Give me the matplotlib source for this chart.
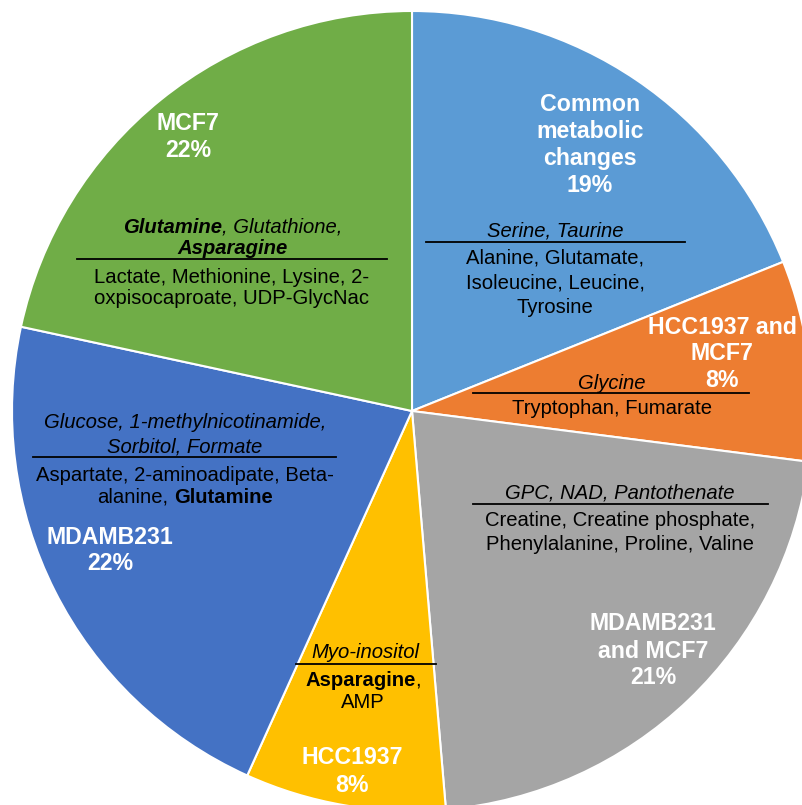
import matplotlib
matplotlib.use("Agg")
import matplotlib.pyplot as plt

plt.rcParams["font.family"] = ["Liberation Sans", "DejaVu Sans"]

# metabolite counts per group (37 in total), clockwise from the top
groups = ["Common\nmetabolic\nchanges", "HCC1937 and\nMCF7", "MDAMB231\nand MCF7",
          "HCC1937", "MDAMB231", "MCF7"]
counts = [7, 3, 8, 3, 8, 8]
pct_labels = ["19%", "8%", "21%", "8%", "22%", "22%"]
colors = ["#5B9BD5", "#ED7D31", "#A5A5A5", "#FFC000", "#4472C4", "#70AD47"]

W, H = 802, 805
fig = plt.figure(figsize=(W / 100, H / 100), dpi=100)
ax = fig.add_axes([0, 0, 1, 1])

# y axis is flipped so text can be placed in pixels from the top;
# that mirrors the pie, hence counterclock=True / startangle=-90 (= clockwise from 12 o'clock)
ax.pie(counts, colors=colors, startangle=-90, counterclock=True,
       center=(412, 411), radius=400,
       wedgeprops=dict(edgecolor="white", linewidth=1.5))
ax.set_xlim(0, W)
ax.set_ylim(H, 0)
ax.axis("off")

renderer = fig.canvas.get_renderer()
BIG = 16.7
SMALL = 14.6


def block(x, y0, lines, dy, **kw):
    for i, s in enumerate(lines):
        ax.text(x, y0 + i * dy, s, ha="center", va="center", **kw)


def rich_line(x, y, parts, size=SMALL, gap=5):
    # parts: (text, weight, style, space_before)
    texts, widths = [], []
    for s, w, st, _ in parts:
        t = ax.text(0, y, s, fontsize=size, fontweight=w, fontstyle=st,
                    ha="left", va="center")
        texts.append(t)
        widths.append(t.get_window_extent(renderer).width)
    total = sum(widths) + sum(gap for p in parts[1:] if p[3])
    x0 = x - total / 2
    for t, wd, p in zip(texts, widths, parts):
        if p[3] and t is not texts[0]:
            x0 += gap
        t.set_x(x0)
        x0 += wd


def rule(y, x0, x1):
    ax.plot([x0, x1], [y, y], color="black", lw=1.3)


# white group labels
label_pos = [(590, 104, 27), (722, 327, 26.5), (653, 624, 27),
             (352, 758, 27), (110, 537, 26), (188, 123, 27)]
for g, p, (x, y0, dy) in zip(groups, pct_labels, label_pos):
    block(x, y0, g.split("\n") + [p], dy, color="white", fontsize=BIG,
          fontweight="bold")

# common metabolic changes
block(555, 231, ["Serine, Taurine"], 0, fontsize=SMALL, fontstyle="italic")
rule(242, 426, 685)
block(555, 258, ["Alanine, Glutamate,", "Isoleucine, Leucine,", "Tyrosine"], 24.5,
      fontsize=SMALL)

# HCC1937 and MCF7
block(612, 383, ["Glycine"], 0, fontsize=SMALL, fontstyle="italic")
rule(393, 473, 749)
block(612, 408, ["Tryptophan, Fumarate"], 0, fontsize=SMALL)

# MDAMB231 and MCF7
block(620, 493, ["GPC, NAD, Pantothenate"], 0, fontsize=SMALL, fontstyle="italic")
rule(504, 473, 768)
block(620, 520, ["Creatine, Creatine phosphate,", "Phenylalanine, Proline, Valine"],
      25, fontsize=SMALL)

# HCC1937
block(365, 652, ["Myo-inositol"], 0, fontsize=SMALL, fontstyle="italic")
rule(664, 296, 436)
rich_line(363, 680, [("Asparagine", "bold", "normal", False),
                     (",", "normal", "normal", False)])
block(363, 702, ["AMP"], 0, fontsize=SMALL)

# MDAMB231
block(185, 422, ["Glucose, 1-methylnicotinamide,", "Sorbitol, Formate"], 25,
      fontsize=SMALL, fontstyle="italic")
rule(457, 33, 336)
block(185, 475, ["Aspartate, 2-aminoadipate, Beta-"], 0, fontsize=SMALL)
rich_line(185, 497, [("alanine,", "normal", "normal", False),
                     ("Glutamine", "bold", "normal", True)])

# MCF7
rich_line(233, 227, [("Glutamine", "bold", "italic", False),
                     (", Glutathione,", "normal", "italic", False)])
block(233, 248, ["Asparagine"], 0, fontsize=SMALL, fontweight="bold",
      fontstyle="italic")
rule(259, 77, 387)
block(232, 277, ["Lactate, Methionine, Lysine, 2-", "oxpisocaproate, UDP-GlycNac"],
      21, fontsize=SMALL)

fig.savefig("out.png", dpi=100)
